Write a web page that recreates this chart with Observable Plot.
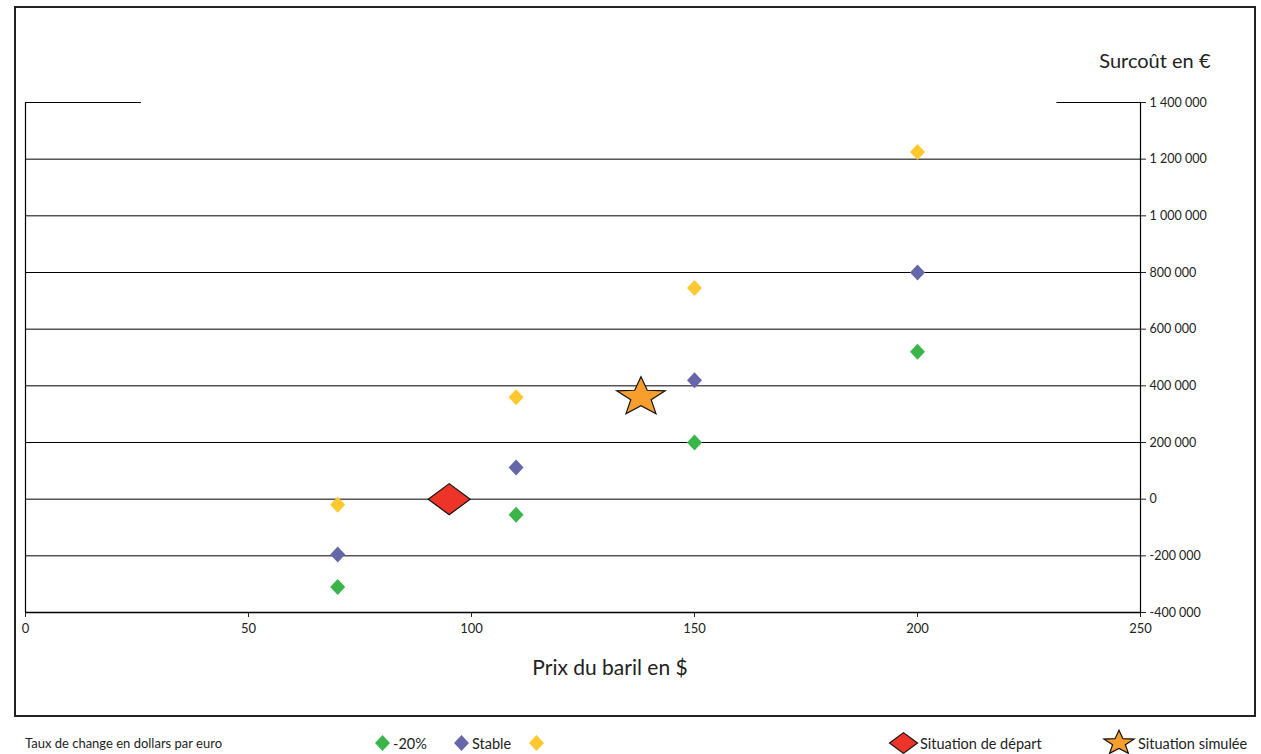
<!DOCTYPE html>
<html>
<head>
<meta charset="utf-8">
<script src="https://cdn.jsdelivr.net/npm/d3@7"></script>
<script src="https://cdn.jsdelivr.net/npm/@observablehq/plot@0.6"></script>
<style>
  html, body { margin: 0; padding: 0; background: #fff; }
  body { width: 1261px; height: 754px; position: relative; overflow: hidden; font-family: Lato, "Open Sans", sans-serif; color: #222; }
  #frame { position: absolute; left: 14px; top: 6px; width: 1242px; height: 711px; border: 2px solid #222; box-sizing: border-box; pointer-events: none; }
  #chart { position: absolute; left: 0; top: 0; }
  #legend { position: absolute; left: 0; top: 731px; width: 1261px; height: 24px; font-size: 14.5px; }
  #legend .item { position: absolute; top: 0; height: 24px; display: flex; align-items: center; white-space: nowrap; }
  #legend svg { display: block; }
</style>
</head>
<body>
<div id="chart"></div>
<div id="frame"></div>
<div id="legend"></div>
<script>
// ---- data ----
const prix = [70, 110, 150, 200];                           // Prix du baril en $
const surcoutMoins20 = [-310000, -55000, 200000, 520000];   // -20%
const surcoutStable = [-195000, 112000, 420000, 800000];    // Stable
const surcoutJaune = [-20000, 360000, 745000, 1225000];     // (unlabelled series)
const seriesNames = ["-20%", "Stable", ""];
const seriesColors = ["#3BB54A", "#6667A8", "#FFC82E"];
const departX = [95], departY = [0];                         // Situation de départ
const simuleeX = [138], simuleeY = [360000];                 // Situation simulée
const xTicks = [0, 50, 100, 150, 200, 250];
const yTicks = [-400000, -200000, 0, 200000, 400000, 600000, 800000, 1000000, 1200000, 1400000];
const legendTitle = "Taux de change en dollars par euro";
const departLabel = "Situation de départ";
const simuleeLabel = "Situation simulée";
const xLabel = "Prix du baril en $";
const yLabel = "Surcoût en €";

// ---- table built from the arrays ----
const seriesValues = [surcoutMoins20, surcoutStable, surcoutJaune];
const points = [];
seriesValues.forEach((vals, s) => vals.forEach((v, i) => points.push({x: prix[i], y: v, s})));

// ---- symbols ----
function diamondSym(ax, ay) {
  return {draw(ctx, size) {
    const r = Math.sqrt(size / Math.PI);
    ctx.moveTo(0, -r * ay); ctx.lineTo(r * ax, 0); ctx.lineTo(0, r * ay); ctx.lineTo(-r * ax, 0); ctx.closePath();
  }};
}
function starSym(sy, inner) {
  return {draw(ctx, size) {
    const r = Math.sqrt(size / Math.PI);
    for (let k = 0; k < 10; k++) {
      const a = -Math.PI / 2 + k * Math.PI / 5;
      const rr = k % 2 === 0 ? r : r * inner;
      const px = Math.cos(a) * rr, py = Math.sin(a) * rr * sy;
      if (k === 0) ctx.moveTo(px, py); else ctx.lineTo(px, py);
    }
    ctx.closePath();
  }};
}
const smallDiamond = diamondSym(1, 1.07);
const bigDiamond = diamondSym(1, 0.74);
const star = starSym(0.8, 0.42);

const locale = d3.formatLocale({decimal: ",", thousands: "\u00a0", grouping: [3], minus: "-"});
const fmt = locale.format(",d");

const xDomain = [xTicks[0], xTicks[xTicks.length - 1]];
const yDomain = [yTicks[0], yTicks[yTicks.length - 1]];
const gridVals = yTicks.slice(0, -1);

const chart = Plot.plot({
  width: 1261,
  height: 720,
  marginLeft: 25,
  marginRight: 121,
  marginTop: 102,
  marginBottom: 108,
  style: {fontFamily: "Lato, 'Open Sans', sans-serif", fontSize: "12px", color: "#222", background: "transparent"},
  x: {domain: xDomain, ticks: xTicks},
  y: {domain: yDomain, ticks: yTicks},
  marks: [
    // horizontal gridlines
    Plot.ruleY(gridVals, {stroke: "#000", strokeWidth: 1}),
    // partial top line
    Plot.ruleY([yDomain[1]], {x1: xDomain[0], x2: xDomain[0] + (xDomain[1] - xDomain[0]) * 0.104, stroke: "#000"}),
    Plot.ruleY([yDomain[1]], {x1: xDomain[0] + (xDomain[1] - xDomain[0]) * 0.925, x2: xDomain[1], stroke: "#000"}),
    // vertical boundary lines
    Plot.ruleX([xDomain[0], xDomain[1]], {y1: yDomain[0], y2: yDomain[1], stroke: "#000", strokeWidth: 1.2}),
    Plot.ruleY([yDomain[0]], {stroke: "#000", strokeWidth: 1.5}),
    Plot.axisX({ticks: xTicks, tickSize: 5, tickPadding: 6, tickFormat: d => String(d), fontSize: 13, label: null}),
    Plot.axisY({anchor: "right", ticks: yTicks, tickSize: 5, tickPadding: 4, tickFormat: fmt, fontSize: 12.5, label: null}),
    // series diamonds
    Plot.dot(points, {x: "x", y: "y", symbol: smallDiamond, r: 7.5, fill: d => seriesColors[d.s], stroke: "none"}),
    // departure and simulated markers
    Plot.dot(departX, {x: d => d, y: (d, i) => departY[i], symbol: bigDiamond, r: 21, fill: "#EE3429", stroke: "#111", strokeWidth: 1.2}),
    Plot.dot(simuleeX, {x: d => d, y: (d, i) => simuleeY[i], symbol: star, r: 25.5, fill: "#F89E2E", stroke: "#111", strokeWidth: 1.2}),
    // axis titles
    Plot.text([yLabel], {frameAnchor: "top-right", lineAnchor: "middle", text: d => d, textAnchor: "end", dx: 70, dy: -41, fontSize: 20, fill: "#222"}),
    Plot.text([xLabel], {frameAnchor: "bottom", lineAnchor: "middle", text: d => d, dx: 27, dy: 56, fontSize: 21, fill: "#222"})
  ]
});
document.getElementById("chart").appendChild(chart);

// ---- legend (HTML) ----
const legend = document.getElementById("legend");
function symSvg(sym, r, fill, stroke, w, h) {
  const p = d3.path();
  sym.draw(p, Math.PI * r * r);
  return `<svg width="${w}" height="${h}" viewBox="${-w/2} ${-h/2} ${w} ${h}"><path d="${p.toString()}" fill="${fill}" stroke="${stroke}" stroke-width="1.2"/></svg>`;
}
function addItem(left, html) {
  const el = document.createElement("div");
  el.className = "item";
  el.style.left = left + "px";
  el.innerHTML = html;
  legend.appendChild(el);
}
addItem(25, `<span style="font-size:13px">${legendTitle}</span>`);
const legLefts = [374, 453, 528];
seriesNames.forEach((n, i) => {
  addItem(legLefts[i], symSvg(smallDiamond, 7.5, seriesColors[i], "none", 17, 18) + (n ? `<span style="margin-left:2px">${n}</span>` : ""));
});
addItem(888, symSvg(bigDiamond, 14, "#EE3429", "#111", 31, 24) + `<span style="margin-left:1px">${departLabel}</span>`);
addItem(1102, symSvg(star, 16, "#F89E2E", "#111", 34, 28) + `<span style="margin-left:2px">${simuleeLabel}</span>`);
</script>
</body>
</html>
